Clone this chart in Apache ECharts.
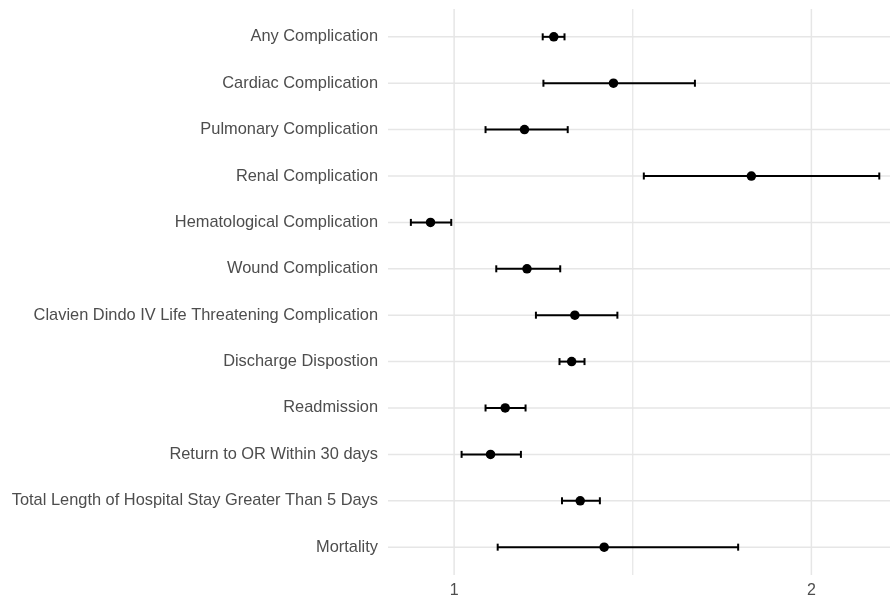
<!DOCTYPE html>
<html>
<head>
<meta charset="utf-8">
<script src="https://cdn.jsdelivr.net/npm/echarts@6/dist/echarts.min.js"></script>
<style>
  html, body { margin: 0; padding: 0; background: #fff; }
  #chart { width: 890px; height: 599px; }
</style>
</head>
<body>
<div id="chart"></div>
<script>
// outcomes, top to bottom
const categories = [
  "Any Complication",
  "Cardiac Complication",
  "Pulmonary Complication",
  "Renal Complication",
  "Hematological Complication",
  "Wound Complication",
  "Clavien Dindo IV Life Threatening Complication",
  "Discharge Dispostion",
  "Readmission",
  "Return to OR Within 30 days",
  "Total Length of Hospital Stay Greater Than 5 Days",
  "Mortality"
];
const estimate = [1.279, 1.446, 1.197, 1.832, 0.934, 1.204, 1.338, 1.329, 1.143, 1.102, 1.353, 1.420];
const lower    = [1.248, 1.250, 1.088, 1.531, 0.879, 1.118, 1.229, 1.295, 1.088, 1.021, 1.302, 1.122];
const upper    = [1.309, 1.674, 1.318, 2.190, 0.992, 1.297, 1.457, 1.365, 1.200, 1.187, 1.408, 1.795];

const xTickLabels = [1, 2];
const xGridValues = [1, 1.5, 2];

const X_MIN = 0.815, X_MAX = 2.22;
const Y_MIN = -0.6, Y_MAX = categories.length - 0.4;

const gridColor = "#e6e6e6";

const myChart = echarts.init(document.getElementById("chart"));

myChart.setOption({
  animation: false,
  grid: { left: 388, right: 0, top: 9, bottom: 21 },
  xAxis: {
    type: "value",
    min: X_MIN,
    max: X_MAX,
    axisLine: { show: false },
    axisTick: { show: false },
    splitLine: { show: false },
    axisLabel: {
      customValues: xTickLabels,
      color: "#4d4d4d",
      fontSize: 16,
      fontFamily: "Liberation Sans, Arial, sans-serif",
      margin: 8
    }
  },
  yAxis: {
    type: "value",
    inverse: true,
    min: Y_MIN,
    max: Y_MAX,
    axisLine: { show: false },
    axisTick: { show: false },
    splitLine: { show: false },
    axisLabel: {
      customValues: categories.map((c, i) => i),
      formatter: (v) => categories[Math.round(v)] || "",
      color: "#4d4d4d",
      fontSize: 16.4,
      fontFamily: "Liberation Sans, Arial, sans-serif",
      margin: 10
    }
  },
  series: [
    {
      // horizontal grid lines, one per outcome
      type: "custom",
      silent: true,
      z: 1,
      data: categories.map((c, i) => [i]),
      renderItem: function (params, api) {
        const i = api.value(0);
        const a = api.coord([X_MIN, i]);
        const b = api.coord([X_MAX, i]);
        return {
          type: "line",
          shape: { x1: a[0], y1: a[1], x2: b[0], y2: b[1] },
          style: { stroke: gridColor, lineWidth: 1.5 }
        };
      }
    },
    {
      // vertical grid lines
      type: "custom",
      silent: true,
      z: 1,
      data: xGridValues.map((v) => [v]),
      renderItem: function (params, api) {
        const v = api.value(0);
        const a = api.coord([v, Y_MIN]);
        const b = api.coord([v, Y_MAX]);
        return {
          type: "line",
          shape: { x1: a[0], y1: a[1], x2: b[0], y2: b[1] },
          style: { stroke: gridColor, lineWidth: v === 1.5 ? 1.2 : 1.5 }
        };
      }
    },
    {
      // confidence intervals with end caps
      type: "custom",
      z: 2,
      data: categories.map((c, i) => [lower[i], i, upper[i]]),
      renderItem: function (params, api) {
        const lo = api.coord([api.value(0), api.value(1)]);
        const hi = api.coord([api.value(2), api.value(1)]);
        const cap = 3.5;
        const st = { stroke: "#000", lineWidth: 2 };
        return {
          type: "group",
          children: [
            { type: "line", shape: { x1: lo[0], y1: lo[1], x2: hi[0], y2: hi[1] }, style: st },
            { type: "line", shape: { x1: lo[0], y1: lo[1] - cap, x2: lo[0], y2: lo[1] + cap }, style: st },
            { type: "line", shape: { x1: hi[0], y1: hi[1] - cap, x2: hi[0], y2: hi[1] + cap }, style: st }
          ]
        };
      }
    },
    {
      type: "scatter",
      z: 3,
      symbol: "circle",
      symbolSize: 9.5,
      itemStyle: { color: "#000", opacity: 1 },
      data: categories.map((c, i) => [estimate[i], i])
    }
  ]
});
</script>
</body>
</html>
